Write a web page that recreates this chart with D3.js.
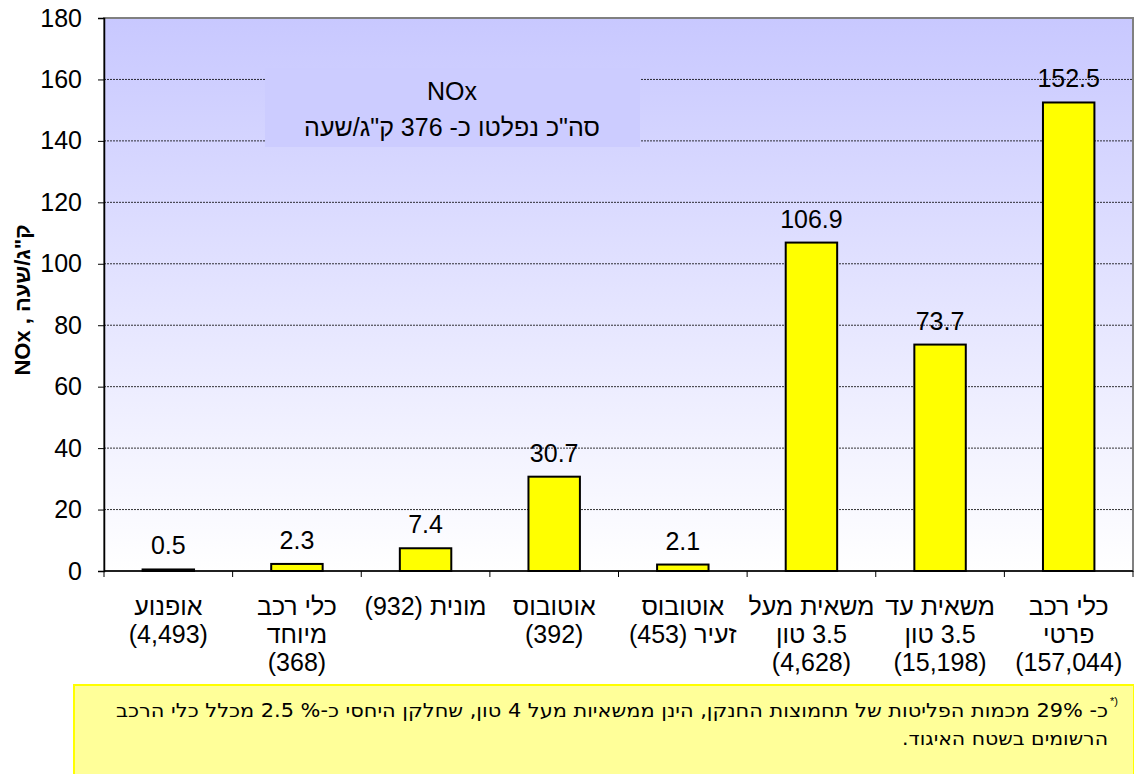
<!DOCTYPE html>
<html>
<head>
<meta charset="utf-8">
<script src="https://cdn.jsdelivr.net/npm/d3@7"></script>
<style>
  body { margin: 0; background: #fff; }
  text { font-family: Arial, "Liberation Sans", sans-serif; fill: #000; }
</style>
</head>
<body>
<script>

// categories, left to right (each label split on its lines)
var categories = ["motorcycle", "special", "taxi", "bus", "minibus", "truckOver", "truckUnder", "private"];
var labelLines = [
  ["אופנוע", "(4,493)"],
  ["כלי רכב", "מיוחד", "(368)"],
  ["מונית (932)"],
  ["אוטובוס", "(392)"],
  ["אוטובוס", "זעיר (453)"],
  ["משאית מעל", "3.5 טון", "(4,628)"],
  ["משאית עד", "3.5 טון", "(15,198)"],
  ["כלי רכב", "פרטי", "(157,044)"]
];
var values = [0.5, 2.3, 7.4, 30.7, 2.1, 106.9, 73.7, 152.5];
var yTicks = [0, 20, 40, 60, 80, 100, 120, 140, 160, 180];

var titleLines = ["NOx", "סה\"כ נפלטו כ- 376 ק\"ג/שעה"];
var yLabel = "NOx , ק\"ג/שעה";
var noteLines = [
  "כ- 29% מכמות הפליטות של תחמוצות החנקן, הינן ממשאיות מעל 4 טון, שחלקן היחסי כ-% 2.5  מכלל כלי הרכב",
  "הרשומים בשטח האיגוד."
];

var W = 1134, H = 774;
var plot = { left: 104, right: 1133, top: 18, bottom: 571 };

var svg = d3.select("body").append("svg")
    .attr("width", W)
    .attr("height", H)

var grad = svg.append("defs").append("linearGradient")
    .attr("id", "bg")
    .attr("x1", 0).attr("y1", 0).attr("x2", 0).attr("y2", 1);
grad.append("stop").attr("offset", "0%").attr("stop-color", "#c8c8ff");
grad.append("stop").attr("offset", "100%").attr("stop-color", "#ffffff");

var x = d3.scaleBand()
    .domain(categories)
    .range([plot.left, plot.right])
    .paddingInner(0.6)
    .paddingOuter(0.3);

var y = d3.scaleLinear()
    .domain([0, 180])
    .range([plot.bottom, plot.top]);

// plot background
svg.append("rect")
    .attr("x", plot.left).attr("y", plot.top)
    .attr("width", plot.right - plot.left)
    .attr("height", plot.bottom - plot.top)
    .attr("fill", "url(#bg)")
    .attr("stroke", "#808080")
    .attr("stroke-width", 2);

// grid lines
svg.selectAll(".grid")
    .data(yTicks.filter(function(d){ return d > 0 && d < 180; }))
    .enter()
    .append("line")
    .attr("x1", plot.left).attr("x2", plot.right)
    .attr("y1", function(d){ return y(d); })
    .attr("y2", function(d){ return y(d); })
    .attr("stroke", "#000")
    .attr("stroke-width", 0.8)
    .attr("stroke-dasharray", "2,1");

// title box
var tb = svg.append("g");
tb.append("rect")
    .attr("x", 265).attr("y", 68)
    .attr("width", 375).attr("height", 79)
    .attr("fill", "#ccccff");
tb.selectAll("text")
    .data(titleLines)
    .enter()
    .append("text")
    .attr("x", 452)
    .attr("y", function(d,i){ return 100 + i * 36; })
    .attr("text-anchor", "middle")
    .attr("direction", function(d,i){ return i ? "rtl" : "ltr"; })
    .style("font-size", "25px")
    .text(function(d){ return d; });

// bars
svg.selectAll(".bar")
    .data(values)
    .enter()
    .append("rect")
    .attr("x", function(d,i){ return x(categories[i]); })
    .attr("y", function(d){ return y(d); })
    .attr("width", x.bandwidth())
    .attr("height", function(d){ return y(0) - y(d); })
    .attr("fill", "#ffff00")
    .attr("stroke", "#000")
    .attr("stroke-width", 2);

// value labels
svg.selectAll(".val")
    .data(values)
    .enter()
    .append("text")
    .attr("x", function(d,i){ return x(categories[i]) + x.bandwidth() / 2; })
    .attr("y", function(d){ return y(d) - 15; })
    .attr("text-anchor", "middle")
    .style("font-size", "25px")
    .text(function(d){ return d.toFixed(1); });

// y axis
var yAxis = svg.append("g")
    .attr("transform", "translate(" + plot.left + ",0)")
    .call(d3.axisLeft(y).tickValues(yTicks).tickSize(6).tickPadding(16));
yAxis.select(".domain").attr("stroke", "#000").attr("stroke-width", 1.5);
yAxis.selectAll("text").style("font-size", "25px").style("font-family", "Arial, 'Liberation Sans', sans-serif");

// x axis: ticks at band boundaries
svg.append("line")
    .attr("x1", plot.left).attr("x2", plot.right)
    .attr("y1", plot.bottom).attr("y2", plot.bottom)
    .attr("stroke", "#000").attr("stroke-width", 1.5);
var step = x.step();
svg.selectAll(".xtick")
    .data(d3.range(categories.length + 1))
    .enter()
    .append("line")
    .attr("x1", function(i){ return plot.left + i * step; })
    .attr("x2", function(i){ return plot.left + i * step; })
    .attr("y1", plot.bottom).attr("y2", plot.bottom + 6)
    .attr("stroke", "#000");

// category labels
svg.selectAll(".cat")
    .data(labelLines)
    .enter()
    .append("text")
    .attr("direction", "rtl")
    .attr("text-anchor", "middle")
    .style("font-size", "25px")
    .each(function(lines, i){
      var cx = x(categories[i]) + x.bandwidth() / 2;
      d3.select(this).selectAll("tspan")
        .data(lines)
        .enter()
        .append("tspan")
        .attr("x", cx)
        .attr("y", function(d,j){ return 615 + j * 28; })
        .text(function(d){ return d; });
    });

// y axis title
svg.append("text")
    .attr("transform", "translate(30,300) rotate(-90)")
    .attr("text-anchor", "middle")
    .style("font-size", "22px")
    .style("font-weight", "bold")
    .text(yLabel);

// footnote box
svg.append("rect")
    .attr("x", 74).attr("y", 685)
    .attr("width", W - 74).attr("height", H - 685 + 2)
    .attr("fill", "#ffff99")
    .attr("stroke", "#ffff00")
    .attr("stroke-width", 2);

svg.append("text")
    .attr("x", 1110).attr("y", 705)
    .style("font-size", "11px")
    .text("*)");

var noteLen = [992, 206];
svg.selectAll(".note")
    .data(noteLines)
    .enter()
    .append("text")
    .attr("x", 1108)
    .attr("y", function(d,i){ return 717 + i * 28; })
    .attr("direction", "rtl")
    .attr("text-anchor", "start")
    .attr("textLength", function(d,i){ return noteLen[i]; })
    .attr("lengthAdjust", "spacingAndGlyphs")
    .style("font-family", "'Liberation Sans Narrow', 'DejaVu Sans Condensed', sans-serif")
    .style("font-size", "19px")
    .text(function(d){ return d; });

</script>
</body>
</html>
